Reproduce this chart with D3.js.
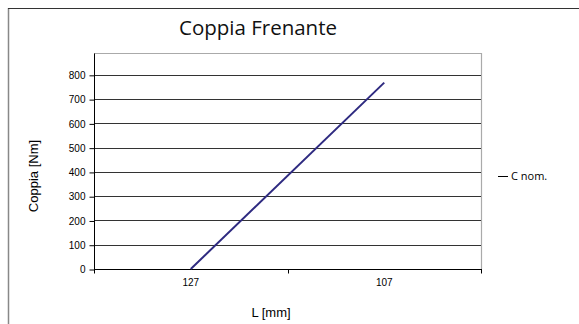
<!DOCTYPE html>
<html>
<head>
<meta charset="utf-8">
<script src="https://cdn.jsdelivr.net/npm/d3@7"></script>
<style>
  html, body { margin: 0; padding: 0; background: #fff; }
  svg { display: block; }
</style>
</head>
<body>
<svg id="chart" width="579" height="324"></svg>
<script>
// Braking torque vs. length
const categories = ["127", "107"];
const seriesName = "C nom.";
const values = [0, 768];
const yTicks = [0, 100, 200, 300, 400, 500, 600, 700, 800];

const svg = d3.select("#chart");
const W = 579, H = 324;
const plot = { left: 94, top: 53, right: 481, bottom: 269 };

// outer chart frame (left and top edges visible)
svg.append("line").attr("x1", 8.5).attr("x2", 8.5).attr("y1", 8).attr("y2", H)
  .attr("stroke", "#888").attr("stroke-width", 1.5);
svg.append("line").attr("x1", 8).attr("x2", W).attr("y1", 8.5).attr("y2", 8.5)
  .attr("stroke", "#333").attr("stroke-width", 1.2);

const x = d3.scaleBand().domain(categories).range([plot.left, plot.right]);
const y = d3.scaleLinear().domain([0, 890]).range([plot.bottom, plot.top]);

// plot area border (top and right)
svg.append("path")
  .attr("d", `M${plot.left},${plot.top + 0.5}H${plot.right + 0.5}V${plot.bottom}`)
  .attr("fill", "none").attr("stroke", "#aaa").attr("stroke-width", 1.2);

// horizontal gridlines
svg.append("g").selectAll("line").data(yTicks.filter(d => d > 0)).join("line")
  .attr("x1", plot.left).attr("x2", plot.right)
  .attr("y1", d => Math.round(y(d)) + 0.5).attr("y2", d => Math.round(y(d)) + 0.5)
  .attr("stroke", "#333").attr("stroke-width", 1);

// y axis
const yAxis = d3.axisLeft(y).tickValues(yTicks).tickSize(5).tickPadding(4);
const gy = svg.append("g").attr("transform", `translate(${plot.left + 0.5},0.5)`).call(yAxis);
gy.select(".domain").attr("stroke", "#000").attr("d", `M0,${plot.top}V${plot.bottom}`);
gy.selectAll(".tick line").attr("stroke", "#000");
gy.selectAll(".tick text").attr("font-family", "Liberation Sans, Arial, sans-serif")
  .attr("font-size", 10).attr("fill", "#000");

// x axis
const xAxis = d3.axisBottom(x).tickSize(0).tickPadding(9);
const gx = svg.append("g").attr("transform", `translate(0,${plot.bottom + 0.5})`).call(xAxis);
gx.select(".domain").attr("stroke", "#000").attr("d", `M${plot.left},0H${plot.right + 1}`);
gx.selectAll(".tick text").attr("font-family", "Liberation Sans, Arial, sans-serif")
  .attr("font-size", 10).attr("fill", "#000");
// category boundary ticks
const bounds = [plot.left, plot.left + x.step(), plot.right];
gx.append("g").selectAll("line").data(bounds).join("line")
  .attr("x1", d => Math.round(d) + 0.5).attr("x2", d => Math.round(d) + 0.5)
  .attr("y1", 0).attr("y2", 4).attr("stroke", "#000");

// series line
const line = d3.line().x((d, i) => x(categories[i]) + x.bandwidth() / 2).y(d => y(d));
svg.append("path").datum(values).attr("d", line)
  .attr("fill", "none").attr("stroke", "#2e2a80").attr("stroke-width", 2);

// title
svg.append("text").attr("x", 258).attr("y", 35).attr("text-anchor", "middle")
  .attr("font-family", "Open Sans, sans-serif").attr("font-size", 20.5).attr("fill", "#111")
  .text("Coppia Frenante");

// axis titles
svg.append("text").attr("transform", "translate(38,176) rotate(-90)").attr("text-anchor", "middle")
  .attr("font-family", "Liberation Sans, Arial, sans-serif").attr("font-size", 13).attr("fill", "#000")
  .text("Coppia [Nm]");
svg.append("text").attr("x", 271).attr("y", 317).attr("text-anchor", "middle")
  .attr("font-family", "Liberation Sans, Arial, sans-serif").attr("font-size", 13).attr("fill", "#000")
  .text("L [mm]");

// legend
const lg = svg.append("g").attr("transform", "translate(498,176)");
lg.append("line").attr("x1", 0).attr("x2", 10).attr("y1", 0.5).attr("y2", 0.5)
  .attr("stroke", "#000").attr("stroke-width", 1);
lg.append("text").attr("x", 13).attr("y", 4)
  .attr("font-family", "Open Sans, sans-serif").attr("font-size", 11).attr("fill", "#000")
  .text(seriesName);
</script>
</body>
</html>
